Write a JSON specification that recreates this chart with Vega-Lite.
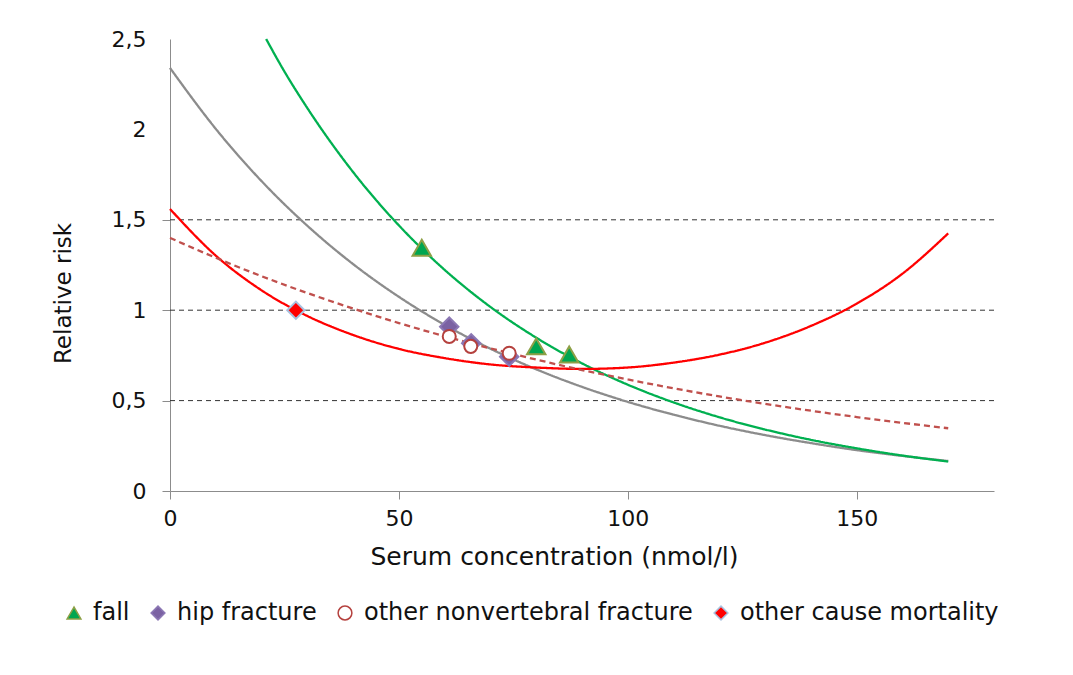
{
  "$schema": "https://vega.github.io/schema/vega-lite/v6.json",
  "width": 824,
  "height": 452,
  "autosize": {"type": "none"},
  "padding": {"left": 170, "top": 39, "right": 79, "bottom": 184},
  "background": "white",
  "config": {
    "view": {"stroke": null},
    "font": "DejaVu Sans",
    "axis": {"labelFont": "DejaVu Sans", "titleFont": "DejaVu Sans", "labelColor": "#111", "titleColor": "#111", "titleFontWeight": "normal", "domainColor": "#8c8c8c", "tickColor": "#8c8c8c", "grid": false},
    "legend": {"labelFont": "DejaVu Sans", "labelColor": "#111"}
  },
  "datasets": {
    "curves": [
      {"curve": "hip", "x": 0, "y": 2.34}, {"curve": "hip", "x": 10, "y": 2.003}, {"curve": "hip", "x": 20, "y": 1.714}, {"curve": "hip", "x": 30, "y": 1.467}, {"curve": "hip", "x": 40, "y": 1.255}, {"curve": "hip", "x": 50, "y": 1.074}, {"curve": "hip", "x": 60, "y": 0.919}, {"curve": "hip", "x": 70, "y": 0.787}, {"curve": "hip", "x": 80, "y": 0.673}, {"curve": "hip", "x": 90, "y": 0.576}, {"curve": "hip", "x": 100, "y": 0.493}, {"curve": "hip", "x": 110, "y": 0.422}, {"curve": "hip", "x": 120, "y": 0.361}, {"curve": "hip", "x": 130, "y": 0.309}, {"curve": "hip", "x": 140, "y": 0.265}, {"curve": "hip", "x": 150, "y": 0.226}, {"curve": "hip", "x": 160, "y": 0.194}, {"curve": "hip", "x": 170, "y": 0.166},
      {"curve": "fall", "x": 21, "y": 2.5}, {"curve": "fall", "x": 25, "y": 2.32}, {"curve": "fall", "x": 30, "y": 2.118}, {"curve": "fall", "x": 40, "y": 1.764}, {"curve": "fall", "x": 50, "y": 1.469}, {"curve": "fall", "x": 60, "y": 1.223}, {"curve": "fall", "x": 70, "y": 1.018}, {"curve": "fall", "x": 80, "y": 0.848}, {"curve": "fall", "x": 90, "y": 0.706}, {"curve": "fall", "x": 100, "y": 0.588}, {"curve": "fall", "x": 110, "y": 0.49}, {"curve": "fall", "x": 120, "y": 0.408}, {"curve": "fall", "x": 130, "y": 0.34}, {"curve": "fall", "x": 140, "y": 0.283}, {"curve": "fall", "x": 150, "y": 0.236}, {"curve": "fall", "x": 160, "y": 0.196}, {"curve": "fall", "x": 170, "y": 0.163},
      {"curve": "mort", "x": 0, "y": 1.56}, {"curve": "mort", "x": 10, "y": 1.302}, {"curve": "mort", "x": 20, "y": 1.11}, {"curve": "mort", "x": 30, "y": 0.968}, {"curve": "mort", "x": 40, "y": 0.863}, {"curve": "mort", "x": 50, "y": 0.786}, {"curve": "mort", "x": 60, "y": 0.735}, {"curve": "mort", "x": 70, "y": 0.7}, {"curve": "mort", "x": 80, "y": 0.683}, {"curve": "mort", "x": 90, "y": 0.675}, {"curve": "mort", "x": 100, "y": 0.683}, {"curve": "mort", "x": 110, "y": 0.71}, {"curve": "mort", "x": 120, "y": 0.754}, {"curve": "mort", "x": 130, "y": 0.82}, {"curve": "mort", "x": 140, "y": 0.913}, {"curve": "mort", "x": 150, "y": 1.036}, {"curve": "mort", "x": 160, "y": 1.202}, {"curve": "mort", "x": 170, "y": 1.425},
      {"curve": "nonvert", "x": 0, "y": 1.4}, {"curve": "nonvert", "x": 10, "y": 1.29}, {"curve": "nonvert", "x": 20, "y": 1.188}, {"curve": "nonvert", "x": 30, "y": 1.095}, {"curve": "nonvert", "x": 40, "y": 1.009}, {"curve": "nonvert", "x": 50, "y": 0.929}, {"curve": "nonvert", "x": 60, "y": 0.856}, {"curve": "nonvert", "x": 70, "y": 0.789}, {"curve": "nonvert", "x": 80, "y": 0.727}, {"curve": "nonvert", "x": 90, "y": 0.669}, {"curve": "nonvert", "x": 100, "y": 0.617}, {"curve": "nonvert", "x": 110, "y": 0.568}, {"curve": "nonvert", "x": 120, "y": 0.523}, {"curve": "nonvert", "x": 130, "y": 0.482}, {"curve": "nonvert", "x": 140, "y": 0.444}, {"curve": "nonvert", "x": 150, "y": 0.409}, {"curve": "nonvert", "x": 160, "y": 0.377}, {"curve": "nonvert", "x": 170, "y": 0.347}
    ],
    "points": [
      {"series": "fall", "x": 55, "y": 1.345},
      {"series": "fall", "x": 80, "y": 0.8},
      {"series": "fall", "x": 87.2, "y": 0.755},
      {"series": "hip fracture", "x": 61, "y": 0.909},
      {"series": "hip fracture", "x": 65.8, "y": 0.817},
      {"series": "hip fracture", "x": 74.1, "y": 0.743},
      {"series": "other nonvertebral fracture", "x": 61, "y": 0.855},
      {"series": "other nonvertebral fracture", "x": 65.7, "y": 0.8},
      {"series": "other nonvertebral fracture", "x": 74.1, "y": 0.762},
      {"series": "other cause mortality", "x": 27.5, "y": 1.0}
    ],
    "grid": [{"y": 0.5}, {"y": 1}, {"y": 1.5}]
  },
  "layer": [
    {
      "data": {"name": "grid"},
      "mark": {"type": "rule", "color": "#333333", "strokeDash": [5, 4], "strokeWidth": 1},
      "encoding": {
        "y": {"field": "y", "type": "quantitative", "scale": {"domain": [0, 2.5], "nice": false}}
      }
    },
    {
      "data": {"name": "curves"},
      "mark": {"type": "line", "interpolate": "monotone", "strokeWidth": 2.3},
      "encoding": {
        "x": {"field": "x", "type": "quantitative", "scale": {"domain": [0, 180], "nice": false},
          "axis": {"values": [0, 50, 100, 150], "title": "Serum concentration (nmol/l)", "labelFontSize": 22, "titleFontSize": 25, "tickSize": 8, "labelPadding": 9, "titlePadding": 15, "titleX": 384, "labelFlush": false}},
        "y": {"field": "y", "type": "quantitative", "scale": {"domain": [0, 2.5], "nice": false},
          "axis": {"values": [0, 0.5, 1, 1.5, 2, 2.5], "title": "Relative risk", "labelFontSize": 22, "titleFontSize": 23, "tickSize": 8, "labelPadding": 16, "titlePadding": 36, "titleY": 254, "labelExpr": "replace(format(datum.value, '~g'), '.', ',')",
            "tickOpacity": {"condition": {"test": "datum.value >= 2", "value": 0}, "value": 1}}},
        "color": {"field": "curve", "type": "nominal", "legend": null, "scale": {"domain": ["hip", "fall", "mort", "nonvert"], "range": ["#8c8c8c", "#00B050", "#FF0000", "#C0504D"]}},
        "strokeDash": {"field": "curve", "type": "nominal", "legend": null, "scale": {"domain": ["hip", "fall", "mort", "nonvert"], "range": [[1, 0], [1, 0], [1, 0], [6, 4]]}}
      }
    },
    {
      "data": {"name": "points"},
      "transform": [{"filter": "datum.series == 'fall' || datum.series == 'hip fracture'"}],
      "mark": {"type": "point", "filled": false, "opacity": 1, "strokeWidth": 2, "size": 340},
      "encoding": {
        "x": {"field": "x", "type": "quantitative"},
        "y": {"field": "y", "type": "quantitative"},
        "shape": {"field": "series", "type": "nominal", "title": null, "scale": {"domain": ["fall", "hip fracture", "other nonvertebral fracture", "other cause mortality"], "range": ["triangle-up", "diamond", "circle", "diamond"]},
          "legend": {"orient": "none", "legendX": -108, "legendY": 562, "direction": "horizontal", "labelFontSize": 24, "symbolSize": 190, "symbolStrokeWidth": 1.5, "columnPadding": 16, "labelOffset": 7, "padding": 0, "labelLimit": 600}},
        "fill": {"field": "series", "type": "nominal", "title": null, "scale": {"domain": ["fall", "hip fracture", "other nonvertebral fracture", "other cause mortality"], "range": ["#00A650", "#7B62A3", "#FFFFFF", "#FF0000"]}},
        "stroke": {"field": "series", "type": "nominal", "title": null, "scale": {"domain": ["fall", "hip fracture", "other nonvertebral fracture", "other cause mortality"], "range": ["#8DA046", "#8C78B4", "#B5413E", "#A8C2E0"]}}
      }
    },
    {
      "data": {"name": "points"},
      "transform": [{"filter": "datum.series == 'other nonvertebral fracture'"}],
      "mark": {"type": "point", "filled": false, "opacity": 1, "strokeWidth": 2, "size": 170},
      "encoding": {
        "x": {"field": "x", "type": "quantitative"},
        "y": {"field": "y", "type": "quantitative"},
        "shape": {"field": "series", "type": "nominal", "title": null},
        "fill": {"field": "series", "type": "nominal", "title": null},
        "stroke": {"field": "series", "type": "nominal", "title": null}
      }
    },
    {
      "data": {"name": "points"},
      "transform": [{"filter": "datum.series == 'other cause mortality'"}],
      "mark": {"type": "point", "filled": false, "opacity": 1, "strokeWidth": 2, "size": 300},
      "encoding": {
        "x": {"field": "x", "type": "quantitative"},
        "y": {"field": "y", "type": "quantitative"},
        "shape": {"field": "series", "type": "nominal", "title": null},
        "fill": {"field": "series", "type": "nominal", "title": null},
        "stroke": {"field": "series", "type": "nominal", "title": null}
      }
    }
  ]
}
